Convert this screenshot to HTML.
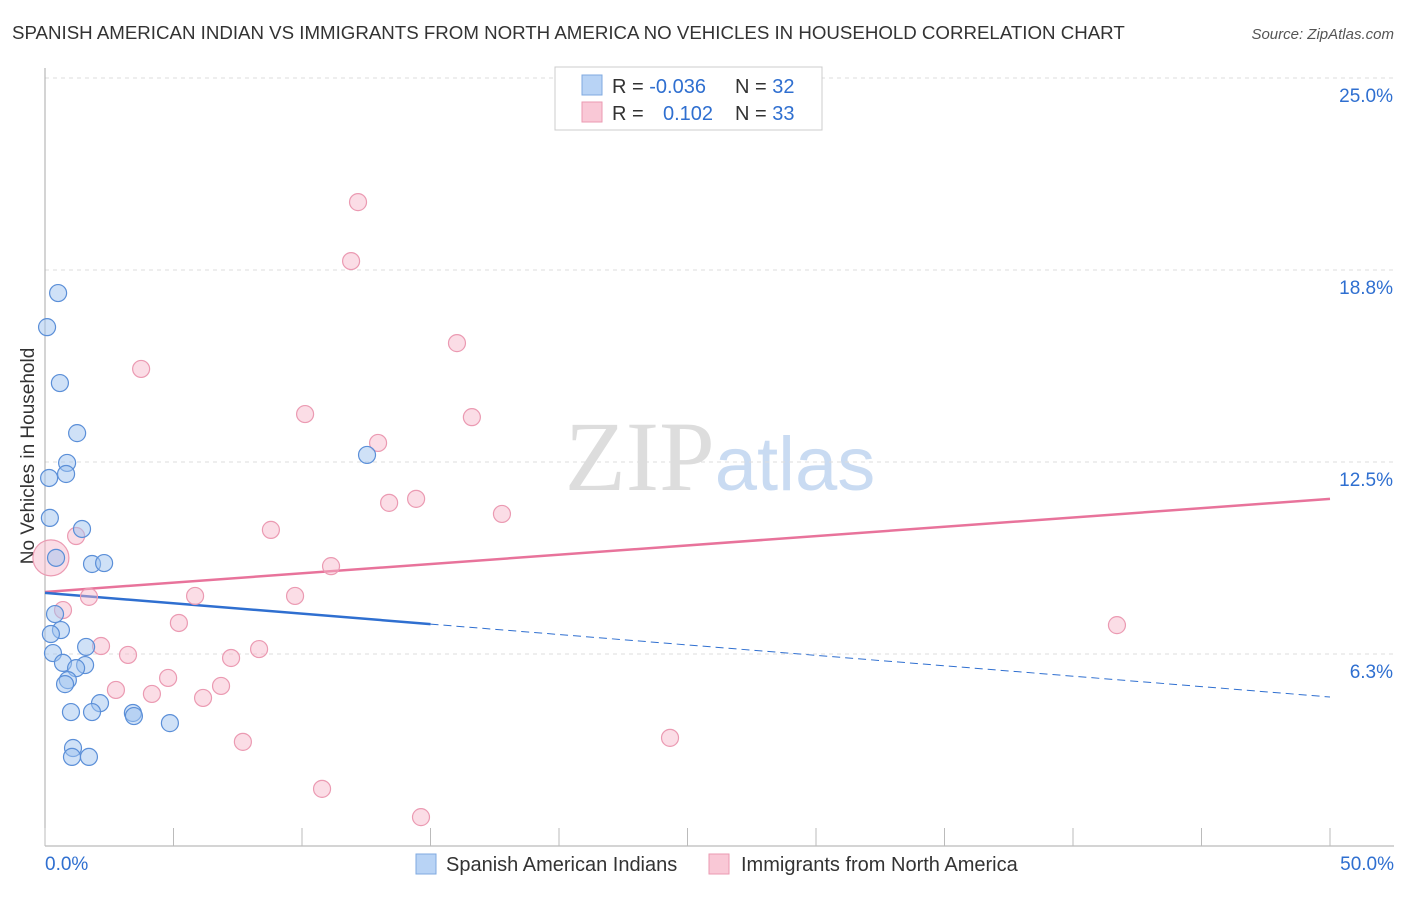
<!DOCTYPE html>
<html><head><meta charset="utf-8"><style>
body{margin:0;background:#fff;font-family:"Liberation Sans",sans-serif;}
svg text{font-family:"Liberation Sans",sans-serif;}
</style></head><body>
<svg id="chart" width="1406" height="892" xmlns="http://www.w3.org/2000/svg">
<text x="12" y="39" font-size="18.7" fill="#333">SPANISH AMERICAN INDIAN VS IMMIGRANTS FROM NORTH AMERICA NO VEHICLES IN HOUSEHOLD CORRELATION CHART</text>
<text x="1394" y="39" font-size="15" fill="#555" text-anchor="end" font-style="italic">Source: ZipAtlas.com</text>
<text x="720" y="490" font-size="100" text-anchor="middle"><tspan fill="#ddd" font-family="Liberation Serif">ZIP</tspan><tspan fill="#c9dbf2" font-size="76">atlas</tspan></text>
<text transform="translate(34,456) rotate(-90)" font-size="19" fill="#333" text-anchor="middle">No Vehicles in Household</text>
<g id="grid"></g><g id="axes"></g><g id="trends"></g><g id="pts"></g>
<g>
<rect x="555" y="67" width="267" height="63" fill="#fff" stroke="#ccc"/>
<rect x="582" y="75" width="20" height="20" fill="#b8d3f5" stroke="#7fa9e0"/>
<rect x="582" y="102" width="20" height="20" fill="#f9c8d6" stroke="#eb9ab2"/>
<text x="612" y="93" font-size="20" fill="#333">R = <tspan fill="#2f6fd0">-0.036</tspan></text>
<text x="735" y="93" font-size="20" fill="#333">N = <tspan fill="#2f6fd0">32</tspan></text>
<text x="612" y="120" font-size="20" fill="#333">R = </text>
<text x="663" y="120" font-size="20" fill="#2f6fd0">0.102</text>
<text x="735" y="120" font-size="20" fill="#333">N = <tspan fill="#2f6fd0">33</tspan></text>
</g>
<g>
<rect x="416" y="854" width="20" height="20" fill="#b8d3f5" stroke="#7fa9e0"/>
<text x="446" y="871" font-size="20" fill="#333">Spanish American Indians</text>
<rect x="709" y="854" width="20" height="20" fill="#f9c8d6" stroke="#eb9ab2"/>
<text x="741" y="871" font-size="20" fill="#333">Immigrants from North America</text>
</g>
</svg>
<script>
const blueX=[0.51,0.08,0.58,1.25,0.86,0.82,0.16,0.19,1.44,0.43,1.83,2.30,0.39,0.62,0.23,0.31,1.60,1.56,0.70,1.21,0.89,0.78,2.14,1.83,1.01,3.42,3.46,4.86,1.09,1.05,1.71,12.53];
const blueY=[18.0,16.89,15.07,13.44,12.47,12.11,11.98,10.68,10.32,9.38,9.18,9.21,7.55,7.03,6.90,6.28,6.48,5.89,5.96,5.79,5.40,5.27,4.65,4.36,4.36,4.33,4.23,4.00,3.19,2.90,2.90,12.73];
const pinkX=[12.18,11.91,16.03,3.74,10.12,16.61,12.96,13.39,14.44,8.79,17.78,1.21,0.23,11.13,1.71,5.84,9.73,0.70,5.21,41.71,2.18,3.23,8.33,7.24,4.79,2.76,4.16,6.85,6.15,7.70,24.32,10.78,14.63];
const pinkY=[20.96,19.04,16.37,15.53,14.06,13.96,13.12,11.17,11.30,10.29,10.81,10.09,9.38,9.11,8.11,8.14,8.14,7.68,7.26,7.19,6.51,6.22,6.41,6.12,5.47,5.08,4.95,5.21,4.82,3.39,3.52,1.86,0.94];
const pinkBig=[12];
const yTicks=[6.25,12.5,18.75,25];
const yTickLabels=["6.3%","12.5%","18.8%","25.0%"];
const xTickLabels=["0.0%","50.0%"];
const blueTrend=[8.24,4.85];
const pinkTrend=[8.27,11.30];
const NS="http://www.w3.org/2000/svg";
const X=v=>45+v/50*1285, Y=v=>846-v/6.25*192;
function mk(t,a,p){const e=document.createElementNS(NS,t);for(const k in a)e.setAttribute(k,a[k]);document.getElementById(p).appendChild(e);return e;}
yTicks.forEach((t,i)=>{
 const l=mk('line',{x1:45,x2:1394,y1:Y(t),y2:Y(t),stroke:'#ddd','stroke-dasharray':'4,4'},'grid');
 
 
 const tx=mk('text',{x:1393,y:Y(t)+24,'font-size':19,fill:'#2f6fd0','text-anchor':'end'},'grid');tx.textContent=yTickLabels[i];
 
 
});
const ax=mk('line',{x1:45,x2:45,y1:68,y2:846,stroke:'#aaa'},'axes');


const bx=mk('line',{x1:45,x2:1394,y1:846,y2:846,stroke:'#aaa'},'axes');


for(let i=0;i<=10;i++){const t=mk('line',{x1:X(i*5),x2:X(i*5),y1:828,y2:846,stroke:'#bbb'},'axes');
 
 }
[[0,'start',45],[50,'end',1394]].forEach((d,i)=>{const t=mk('text',{x:d[2],y:870,'font-size':19,fill:'#2f6fd0','text-anchor':d[1]},'axes');t.textContent=xTickLabels[i];
 
 });
const pl=mk('line',{x1:X(0),y1:Y(pinkTrend[0]),x2:X(50),y2:Y(pinkTrend[1]),stroke:'#e8739b','stroke-width':2.5},'trends');


const bm=v=>blueTrend[0]+(blueTrend[1]-blueTrend[0])*v/50;
const bl=mk('line',{x1:X(0),y1:Y(bm(0)),x2:X(15),y2:Y(bm(15)),stroke:'#2f6fd0','stroke-width':2.5},'trends');


const bd=mk('line',{x1:X(15),y1:Y(bm(15)),x2:X(50),y2:Y(bm(50)),stroke:'#2f6fd0','stroke-width':1,'stroke-dasharray':'8,5'},'trends');


pinkX.forEach((x,i)=>{const c=mk('circle',{cx:X(x),cy:Y(pinkY[i]),r:pinkBig.includes(i)?18:8.5,fill:'rgba(247,180,200,0.45)',stroke:'#eb9ab2','stroke-width':1.2},'pts');
 
 });
blueX.forEach((x,i)=>{const c=mk('circle',{cx:X(x),cy:Y(blueY[i]),r:8.5,fill:'rgba(160,195,240,0.5)',stroke:'#5b8fd8','stroke-width':1.2},'pts');
 
 });
</script>
</body></html>
